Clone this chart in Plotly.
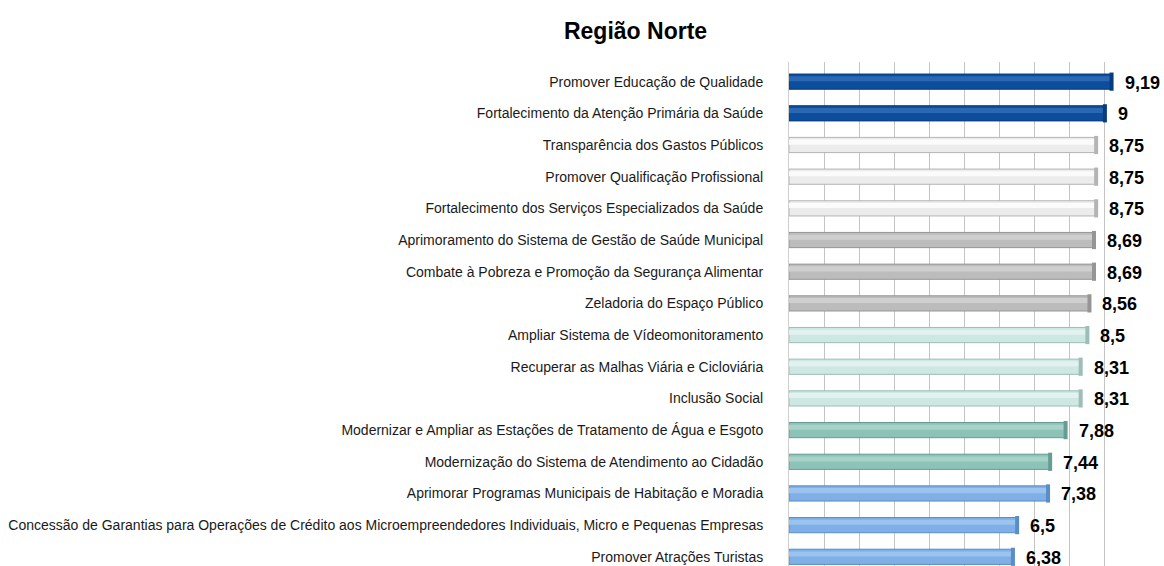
import plotly.graph_objects as go

TITLE = "Região Norte"
CATEGORIES = [
    "Promover Educação de Qualidade",
    "Fortalecimento da Atenção Primária da Saúde",
    "Transparência dos Gastos Públicos",
    "Promover Qualificação Profissional",
    "Fortalecimento dos Serviços Especializados da Saúde",
    "Aprimoramento do Sistema de Gestão de Saúde Municipal",
    "Combate à Pobreza e Promoção da Segurança Alimentar",
    "Zeladoria do Espaço Público",
    "Ampliar Sistema de Vídeomonitoramento",
    "Recuperar as Malhas Viária e Cicloviária",
    "Inclusão Social",
    "Modernizar e Ampliar as Estações de Tratamento de Água e Esgoto",
    "Modernização do Sistema de Atendimento ao Cidadão",
    "Aprimorar Programas Municipais de Habitação e Moradia",
    "Concessão de Garantias para Operações de Crédito aos Microempreendedores Individuais, Micro e Pequenas Empresas",
    "Promover Atrações Turistas",
]
VALUES = [9.19, 9, 8.75, 8.75, 8.75, 8.69, 8.69, 8.56, 8.5, 8.31, 8.31, 7.88, 7.44, 7.38, 6.5, 6.38]
GROUP = ["azul", "azul", "branco", "branco", "branco", "cinza", "cinza", "cinza",
         "verde_claro", "verde_claro", "verde_claro", "verde", "verde", "celeste", "celeste", "celeste"]

# cor base, borda, brilho
PALETA = {
    "azul": ("#0c4e9c", "#083c7c", "#2a68b4"),
    "branco": ("#ececec", "#b4b4b4", "#fbfbfb"),
    "cinza": ("#bcbcbc", "#959595", "#cfcfcf"),
    "verde_claro": ("#cde7e2", "#9dbdb7", "#e2f2ef"),
    "verde": ("#8dc2b7", "#679c92", "#a6d2c9"),
    "celeste": ("#7eafe6", "#5a8cc6", "#9ac3ef"),
}

FONT = "Liberation Sans, Arial, sans-serif"

base = [PALETA[g][0] for g in GROUP]
edge = [PALETA[g][1] for g in GROUP]
shine = [PALETA[g][2] for g in GROUP]

fig = go.Figure()
fig.add_trace(go.Bar(
    x=VALUES, y=CATEGORIES, orientation="h", width=0.48,
    marker=dict(color=base, line=dict(color=edge, width=1)),
    hoverinfo="x+y", showlegend=False,
))
# faixa de brilho (efeito cilindro)
fig.add_trace(go.Bar(
    x=VALUES, y=CATEGORIES, orientation="h", width=0.16, offset=-0.17,
    marker=dict(color=shine, line=dict(width=0)),
    hoverinfo="skip", showlegend=False,
))
# tampa na ponta
fig.add_trace(go.Scatter(
    x=VALUES, y=CATEGORIES, mode="markers",
    marker=dict(symbol="line-ns", size=13, line=dict(color=edge, width=4)),
    hoverinfo="skip", showlegend=False,
))

for cat, v in zip(CATEGORIES, VALUES):
    fig.add_annotation(
        x=v, y=cat, text=f"<b>{v:g}</b>".replace(".", ","),
        xanchor="left", yanchor="middle", xshift=11, yshift=-1,
        showarrow=False, font=dict(family=FONT, size=18, color="#000"),
    )

fig.update_layout(
    barmode="overlay",
    width=1164, height=566,
    margin=dict(l=789, r=24, t=62, b=0),
    paper_bgcolor="white", plot_bgcolor="white",
    font=dict(family=FONT, size=14, color="#1a1a1a"),
    title=dict(text=f"<b>{TITLE}</b>", x=0.546, xanchor="center", xref="container",
               y=1 - 31 / 566, yanchor="middle",
               font=dict(family=FONT, size=23, color="#000")),
    xaxis=dict(range=[0, 10], dtick=1, showgrid=True, gridcolor="#c4c4c4", gridwidth=1,
               showticklabels=False, zeroline=False, showline=False, ticks=""),
    yaxis=dict(range=[15.29, -0.62], showgrid=False, showline=True, linecolor="#cfcfcf",
               ticks="", ticklabelstandoff=22, tickfont=dict(size=14, color="#1a1a1a")),
)

fig.write_html("out.html", config={"displayModeBar": False},
               post_script="document.body.style.margin='0';")
